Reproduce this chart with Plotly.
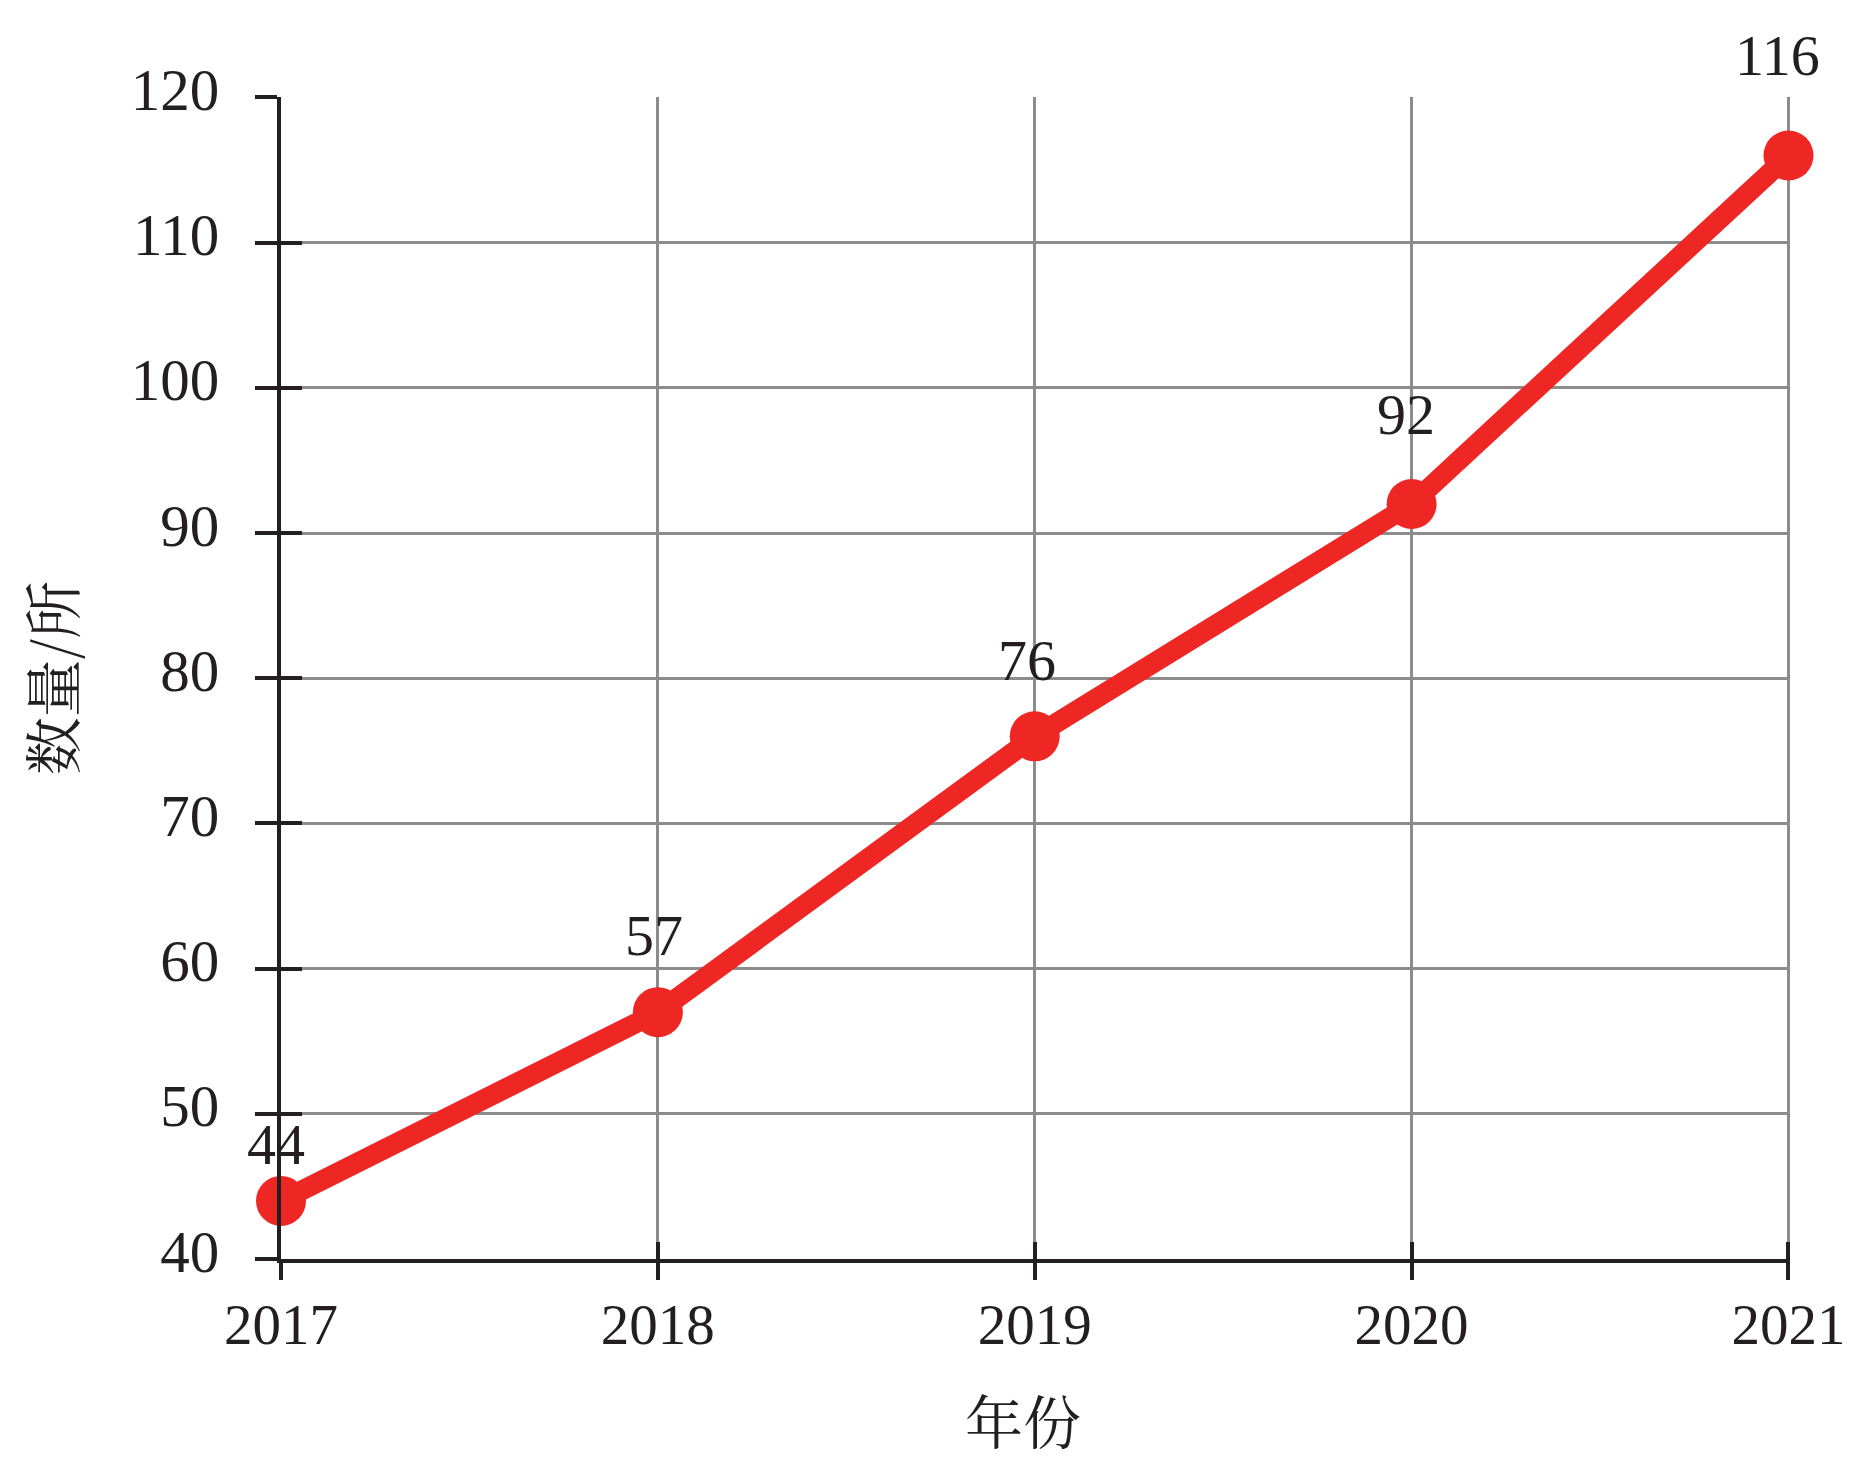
import plotly.graph_objects as go

years = [2017, 2018, 2019, 2020, 2021]
counts = [44, 57, 76, 92, 116]
y_ticks = [40, 50, 60, 70, 80, 90, 100, 110, 120]
label_dy = [56, 77, 76, 89, 100]
label_dx = [-5, -4, -8, -6, -11]

INK = "#231f20"
GRID = "#8c8c8c"
RED = "#ee2724"
SERIF = "Liberation Serif, Times New Roman, serif"
CJK = "Noto Serif CJK SC, Noto Sans CJK SC, serif"

fig = go.Figure()
fig.add_trace(go.Scatter(
    x=years, y=counts, mode="lines+markers",
    line=dict(color=RED, width=20),
    marker=dict(color=RED, size=50),
    cliponaxis=False, showlegend=False, hoverinfo="x+y",
))
# invisible trace to carry the overlay axes (inside tick marks)
fig.add_trace(go.Scatter(
    x=years, y=counts, mode="markers", marker=dict(opacity=0),
    xaxis="x2", yaxis="y2", showlegend=False, hoverinfo="skip",
))

for x, y, dy, dx in zip(years, counts, label_dy, label_dx):
    fig.add_annotation(x=x, y=y, text=str(y), showarrow=False,
                       xshift=dx, yshift=dy,
                       font=dict(family=SERIF, size=58, color=INK))

# x axis title
fig.add_annotation(xref="paper", yref="paper", x=0.492, y=0, yshift=-160,
                   text="年份", showarrow=False, yanchor="middle",
                   font=dict(family=CJK, size=58, color=INK))

X_RANGE = [2017, 2021.004]
Y_RANGE = [40, 120.03]

axis_common = dict(showline=True, linecolor=INK, linewidth=4,
                   tickcolor=INK, tickwidth=4, zeroline=False)

fig.update_layout(
    width=1867, height=1466,
    paper_bgcolor="white", plot_bgcolor="white",
    margin=dict(l=273, r=85, t=89, b=215),
    xaxis=dict(
        range=X_RANGE, tickvals=years, ticktext=[str(v) for v in years],
        ticks="outside", ticklen=17, showgrid=True, gridcolor=GRID, gridwidth=3.3,
        tickfont=dict(family=SERIF, size=57, color=INK),
        ticklabelstandoff=-4,
        **axis_common,
    ),
    yaxis=dict(
        range=Y_RANGE, tickvals=y_ticks,
        ticks="outside", ticklen=22, showgrid=True, gridcolor=GRID, gridwidth=3.3,
        tickfont=dict(family=SERIF, size=59, color=INK),
        ticklabelstandoff=24, ticklabelshift=-8,
        title=dict(text="数量/所", font=dict(family=CJK, size=58, color=INK), standoff=60),
        **axis_common,
    ),
    xaxis2=dict(
        overlaying="x", anchor="y", side="bottom", range=X_RANGE, tickvals=years,
        ticks="inside", ticklen=17, tickcolor=INK, tickwidth=4,
        showticklabels=False, showgrid=False, showline=False, zeroline=False,
    ),
    yaxis2=dict(
        overlaying="y", anchor="x", side="left", range=Y_RANGE, tickvals=y_ticks,
        ticks="inside", ticklen=21, tickcolor=INK, tickwidth=4,
        showticklabels=False, showgrid=False, showline=False, zeroline=False,
    ),
)

fig.write_html("out.html")
